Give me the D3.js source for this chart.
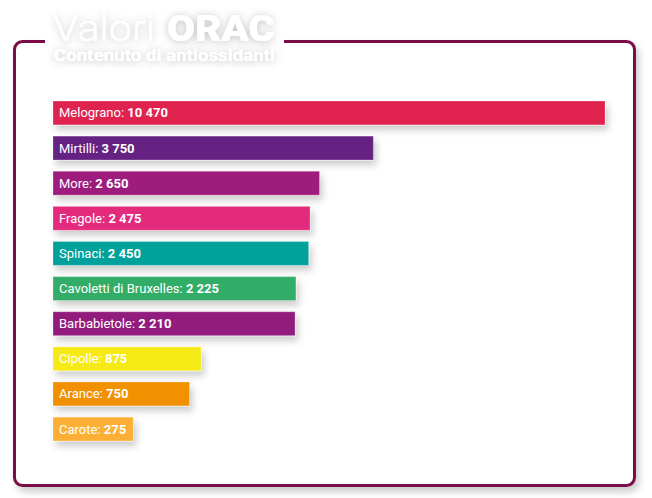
<!DOCTYPE html>
<html>
<head>
<meta charset="utf-8">
<script src="https://cdn.jsdelivr.net/npm/d3@7"></script>
<style>
  html, body { margin: 0; padding: 0; background: #fff; }
</style>
</head>
<body>
<div id="chart-container"></div>
<script>
// Dati: valori ORAC
const categories = ["Melograno", "Mirtilli", "More", "Fragole", "Spinaci",
    "Cavoletti di Bruxelles", "Barbabietole", "Cipolle", "Arance", "Carote"];
const values = [10470, 3750, 2650, 2475, 2450, 2225, 2210, 875, 750, 275];
const colors = ["#e0234f", "#662382", "#9e1f7d", "#e3297b", "#00a19a",
    "#30ad67", "#921f7e", "#f6ea18", "#f29100", "#fbb034"];

const titleLight = "Valori";
const titleBold = "ORAC";
const subtitle = "Contenuto di antiossidanti";

const width = 652;
const height = 498;

const data = categories.map((c, i) => ({ name: c, value: values[i], color: colors[i] }));

const fmt = d3.formatLocale({ decimal: ",", thousands: " ", grouping: [3], currency: ["", "€"] }).format(",d");

const svg = d3.select("#chart-container")
    .append("svg")
    .attr("width", width)
    .attr("height", height)
    .style("font-family", "Roboto, 'Open Sans', sans-serif");

// filtri ombra
const defs = svg.append("defs");
const sh = defs.append("filter").attr("id", "shadow")
    .attr("x", "-10%").attr("y", "-40%").attr("width", "130%").attr("height", "200%");
sh.append("feDropShadow").attr("dx", 3).attr("dy", 5).attr("stdDeviation", 3.5)
    .attr("flood-color", "#000").attr("flood-opacity", 0.2);

const textShadow = defs.append("filter").attr("id", "tshadow")
    .attr("x", "-15%").attr("y", "-60%").attr("width", "130%").attr("height", "220%");
textShadow.append("feDropShadow").attr("dx", 0).attr("dy", 1).attr("stdDeviation", 4)
    .attr("flood-color", "#000").attr("flood-opacity", 0.25);

// cornice
svg.append("rect")
    .attr("x", 14.5).attr("y", 41.5)
    .attr("width", 620).attr("height", 444)
    .attr("rx", 8)
    .attr("fill", "#fff")
    .attr("stroke", "#7a1146")
    .attr("stroke-width", 3)
    .attr("filter", "url(#shadow)");

// scale
const x = d3.scalePow().exponent(0.53)
    .domain([0, d3.max(values)])
    .range([0, 552]);

const y = d3.scaleBand()
    .domain(categories)
    .range([101, 441])
    .paddingInner(0.32)
    .paddingOuter(0);

// barre
const bars = svg.append("g");
bars.selectAll("rect")
    .data(data)
    .join("rect")
    .attr("x", 53)
    .attr("y", d => y(d.name))
    .attr("width", d => x(d.value))
    .attr("height", y.bandwidth())
    .attr("fill", d => d.color)
    .attr("stroke", "rgba(255,255,255,0.25)")
    .attr("stroke-width", 1)
    .attr("filter", "url(#shadow)");

const labels = bars.selectAll("text")
    .data(data)
    .join("text")
    .attr("x", 59)
    .attr("y", d => y(d.name) + y.bandwidth() / 2 + 4.5)
    .style("font-size", "13px")
    .style("fill", "#fff");
labels.append("tspan").text(d => d.name + ":");
labels.append("tspan").style("font-weight", "bold").text(d => " " + fmt(d.value));

// titolo
svg.append("rect")
    .attr("x", 45).attr("y", 4)
    .attr("width", 239).attr("height", 70)
    .attr("fill", "#fff");

const titleG = svg.append("g")
    .style("fill", "#fff")
    .attr("filter", "url(#tshadow)");

titleG.append("text")
    .attr("x", 53).attr("y", 41)
    .style("font-size", "37px")
    .style("font-weight", 300)
    .attr("textLength", 102)
    .attr("lengthAdjust", "spacingAndGlyphs")
    .text(titleLight);

titleG.append("text")
    .attr("x", 167).attr("y", 41)
    .style("font-size", "37px")
    .style("font-weight", 900)
    .attr("textLength", 108)
    .attr("lengthAdjust", "spacingAndGlyphs")
    .text(titleBold);

titleG.append("text")
    .attr("x", 54).attr("y", 61)
    .style("font-size", "17px")
    .style("font-weight", "bold")
    .attr("textLength", 221)
    .attr("lengthAdjust", "spacingAndGlyphs")
    .text(subtitle);
</script>
</body>
</html>
